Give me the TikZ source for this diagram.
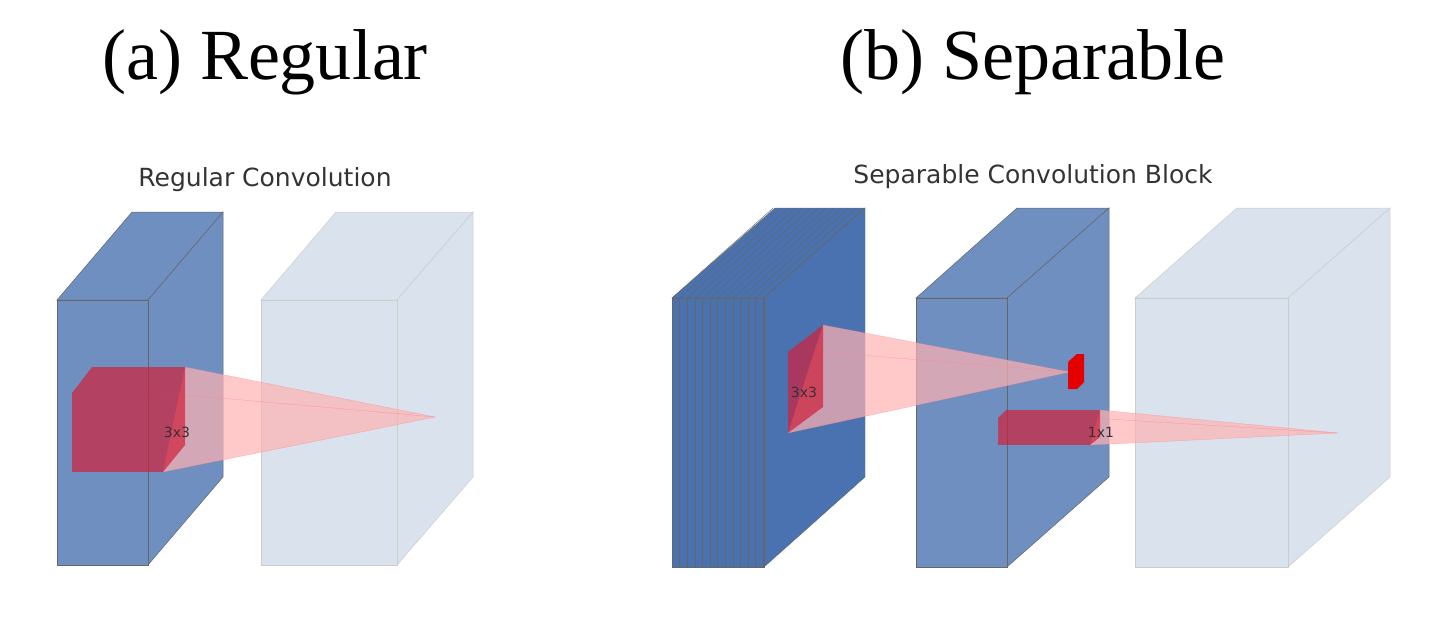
\documentclass[tikz,border=0pt]{standalone}
\usepackage{fontspec}
\setmainfont{Liberation Serif}
\newfontfamily\labelfont{DejaVu Sans}
\definecolor{darkblk}{HTML}{6F8FC0}
\definecolor{stackblk}{HTML}{4A72B0}
\definecolor{lightblk}{HTML}{DAE2EE}
\definecolor{kernred}{HTML}{D0203A}
\tikzset{
  title/.style={font=\fontsize{72}{72}\selectfont},
  subtitle/.style={font=\labelfont\fontsize{25}{25}\selectfont,text=black!80},
  ksize/.style={font=\labelfont\fontsize{14}{14}\selectfont,text=black!80},
  darkface/.style={fill=darkblk,draw=black!60,line width=0.5pt},
  lightface/.style={fill=lightblk,draw=black!20,line width=0.5pt},
  kernel/.style={fill=kernred,fill opacity=0.7,draw=none},
  cone/.style={fill=red!30,fill opacity=0.7,draw=red!50,draw opacity=0.6,line width=0.3pt}
}
\begin{document}
\begin{tikzpicture}[x=1pt,y=-1pt]
\useasboundingbox (0,0) rectangle (1434,635);
% titles
\node (ta) [title] at (265,62) {(a) Regular};
\node (tb) [title] at (1033,62) {(b) Separable};
\node (sa) [subtitle] at (265,180) {Regular Convolution};
\node (sb) [subtitle] at (1033,177) {Separable Convolution Block};
% regular: input block
\draw [darkface] (57,300) -- (132,212) -- (223,212) -- (148,300) -- cycle;
\draw [darkface] (148,300) -- (223,212) -- (223,477) -- (148,565) -- cycle;
\draw [darkface] (57,300) rectangle (148,565);
% regular: output block
\draw [lightface] (261,300) -- (336,212) -- (473,212) -- (397,300) -- cycle;
\draw [lightface] (397,300) -- (473,212) -- (473,477) -- (397,565) -- cycle;
\draw [lightface] (261,300) rectangle (397,565);
% regular: cone and kernel
\draw [cone] (185,367) -- (435,417) -- (163,472) -- cycle;
\draw [cone] (163,393) -- (435,417);
\fill [kernel] (72,393) rectangle (163,472);
\fill [kernel] (72,393) -- (92,367) -- (185,367) -- (163,393) -- cycle;
\fill [kernel] (163,393) -- (185,367) -- (185,445) -- (163,472) -- cycle;
\node (ka) [ksize] at (177,432) {3x3};
% separable: stacked input
\draw [fill=stackblk,draw=black!60] (672,298) -- (775,208) -- (865,208) -- (764,298) -- cycle;
\draw [fill=stackblk,draw=black!60] (764,298) -- (865,208) -- (865,477) -- (764,567) -- cycle;
\draw [fill=stackblk,draw=black!60] (672,298) rectangle (764,567);
\foreach \i in {0,...,12} {
  \draw [black!60,line width=0.4pt] ({672+7.6*\i},298) -- ++(0,269);
  \draw [black!60,line width=0.4pt] ({672+7.6*\i},298) -- ++(101,-90);
}
% separable: depthwise output
\draw [darkface] (916,298) -- (1017,208) -- (1109,208) -- (1007,298) -- cycle;
\draw [darkface] (1007,298) -- (1109,208) -- (1109,477) -- (1007,567) -- cycle;
\draw [darkface] (916,298) rectangle (1007,567);
% separable: final output
\draw [lightface] (1135,298) -- (1237,208) -- (1390,208) -- (1288,298) -- cycle;
\draw [lightface] (1288,298) -- (1390,208) -- (1390,477) -- (1288,567) -- cycle;
\draw [lightface] (1135,298) rectangle (1288,567);
% separable: 3x3 kernel
\draw [cone] (823,325) -- (1070,372) -- (788,433) -- cycle;
\draw [cone] (823,352) -- (1070,372);
\fill [kernel] (788,352) -- (823,325) -- (823,407) -- (788,433) -- cycle;
\fill [red!90!black] (1068,362) -- (1077,354) -- (1084,354) -- (1084,382) -- (1077,389) -- (1068,389) -- cycle;
\node (kb) [ksize] at (804,392) {3x3};
% separable: 1x1 kernel
\draw [cone] (1100,410) -- (1338,433) -- (1090,445) -- cycle;
\draw [cone] (1090,418) -- (1338,433);
\fill [kernel] (998,418) rectangle (1090,445);
\fill [kernel] (998,418) -- (1006,410) -- (1100,410) -- (1090,418) -- cycle;
\fill [kernel] (1090,418) -- (1100,410) -- (1100,437) -- (1090,445) -- cycle;
\node (kc) [ksize] at (1101,432) {1x1};
\end{tikzpicture}
\end{document}
